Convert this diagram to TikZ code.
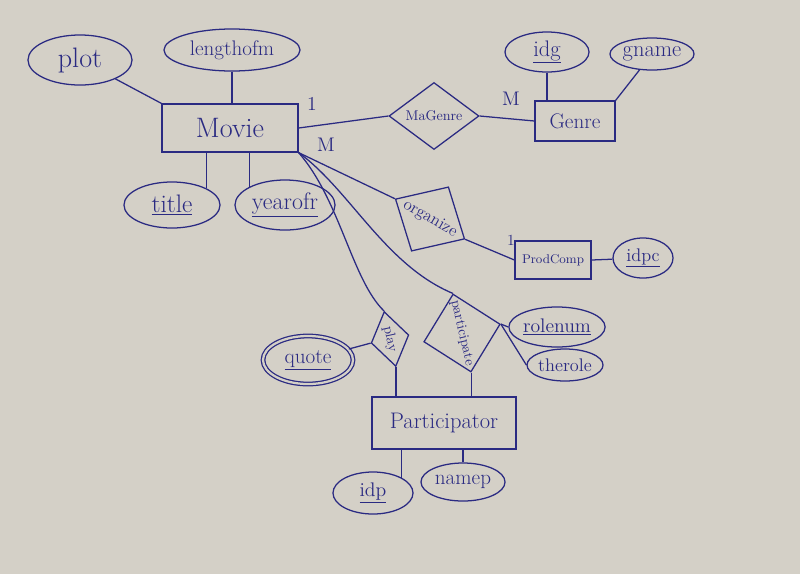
\documentclass[tikz,border=0pt]{standalone}
\usepackage{tikz}
\usetikzlibrary{shapes.geometric, positioning}
\definecolor{ink}{RGB}{42, 42, 130}
\definecolor{paper}{RGB}{212, 208, 199}
\newcommand{\fsz}[1]{\fontsize{#1}{#1}\selectfont}

\begin{document}
\begin{tikzpicture}[
    x=0.025cm, y=-0.025cm,
    every node/.style={text=ink},
    entity/.style={draw=ink, line width=0.9pt, rectangle, inner sep=0pt},
    attr/.style={draw=ink, line width=0.9pt, ellipse, inner sep=0pt},
    multattr/.style={attr, double=paper, double distance=1.6pt},
    rel/.style={draw=ink, line width=0.9pt, diamond, inner sep=0pt},
    link/.style={draw=ink, line width=0.9pt},
    card/.style={font=\fsz{14}, text=ink}
]
    \fill[paper] (0,0) rectangle (800,574);

    % Entities
    \node[entity, minimum width=3.4cm, minimum height=1.2cm, font=\fsz{20}] (movie) at (230,128) {Movie};
    \node[entity, minimum width=2.0cm, minimum height=1.0cm, font=\fsz{15}] (genre) at (575,121) {Genre};
    \node[entity, minimum width=1.9cm, minimum height=0.95cm, font=\fsz{9}] (prodcomp) at (553,260) {ProdComp};
    \node[entity, minimum width=3.6cm, minimum height=1.3cm, font=\fsz{16}] (participator) at (444,423) {Participator};

    % Attributes of Movie
    \node[attr, minimum width=2.6cm, minimum height=1.25cm, font=\fsz{20}] (plot) at (80,60) {plot};
    \node[attr, minimum width=3.4cm, minimum height=1.05cm, font=\fsz{15}] (lengthofm) at (232,50) {lengthofm};
    \node[attr, minimum width=2.4cm, minimum height=1.15cm, font=\fsz{18}] (title) at (172,205) {\underline{title}};
    \node[attr, minimum width=2.5cm, minimum height=1.25cm, font=\fsz{17}] (yearofr) at (285,205) {\underline{yearofr}};

    % Attributes of Genre
    \node[attr, minimum width=2.1cm, minimum height=1.0cm, font=\fsz{16}] (idg) at (547,52) {\underline{idg}};
    \node[attr, minimum width=2.1cm, minimum height=0.8cm, font=\fsz{16}] (gname) at (652,54) {gname};

    % Attributes of ProdComp
    \node[attr, minimum width=1.5cm, minimum height=1.0cm, font=\fsz{13}] (idpc) at (643,258) {\underline{idpc}};

    % Attributes of Participator
    \node[attr, minimum width=2.0cm, minimum height=1.05cm, font=\fsz{14}] (idp) at (373,493) {\underline{idp}};
    \node[attr, minimum width=2.1cm, minimum height=0.95cm, font=\fsz{15}] (namep) at (463,482) {namep};

    % Relationships
    \node[rel, minimum width=2.25cm, minimum height=1.4cm, font=\fsz{10}] (magenre) at (434,116) {MaGenre};
    \node[rel, rotate=-30, minimum width=2.0cm, minimum height=1.3cm, font=\fsz{12}] (organize) at (430,219) {organize};
    \node[rel, rotate=-78, minimum width=1.4cm, minimum height=0.9cm, font=\fsz{10}] (play) at (390,339) {play};
    \node[rel, rotate=-77, minimum width=2.0cm, minimum height=1.15cm, font=\fsz{10}] (participate) at (462,333) {participate};

    % Attributes of relationships
    \node[multattr, minimum width=2.25cm, minimum height=1.2cm, font=\fsz{15}] (quote) at (308,360) {\underline{quote}};
    \node[attr, minimum width=2.2cm, minimum height=1.0cm, font=\fsz{14}] (rolenum) at (557,327) {\underline{rolenum}};
    \node[attr, minimum width=1.9cm, minimum height=0.8cm, font=\fsz{13}] (therole) at (565,365) {therole};

    % Cardinalities
    \node[card] (c1) at (312,104) {1};
    \node[card] (c2) at (326,145) {M};
    \node[card] (c3) at (511,99) {M};
    \node[card, font=\fsz{11}] (c4) at (511,240) {1};

    % Attribute links
    \draw[link] (plot) -- (movie.north west);
    \draw[link] (lengthofm) -- (movie.north -| lengthofm);
    \draw[link] (movie.south -| title.north east) -- (title.north east);
    \draw[link] (movie.south -| yearofr.north west) -- (yearofr.north west);
    \draw[link] (idg) -- (genre.north -| idg);
    \draw[link] (gname) -- (genre.north east);
    \draw[link] (prodcomp.east) -- (idpc);
    \draw[link] (participator.south -| idp.north east) -- (idp.north east);
    \draw[link] (namep.north) -- (participator.south -| namep.north);
    \draw[link] (quote) -- (play.south);
    \draw[link] (participate.north) -- (rolenum.west);
    \draw[link] (participate.north) -- (therole.west);

    % Relationship links
    \draw[link] (movie.east) -- (magenre.west);
    \draw[link] (magenre.east) -- (genre.west);
    \draw[link] (movie.south east) -- (organize.west);
    \draw[link] (organize.east) -- (prodcomp.west);
    \draw[link] (movie.south east) .. controls (340,200) and (352,280) .. (play.west);
    \draw[link] (movie.south east) .. controls (350,190) and (385,265) .. (participate.west);
    \draw[link] (play.east) -- (play.east |- participator.north);
    \draw[link] (participate.east) -- (participate.east |- participator.north);
\end{tikzpicture}
\end{document}
